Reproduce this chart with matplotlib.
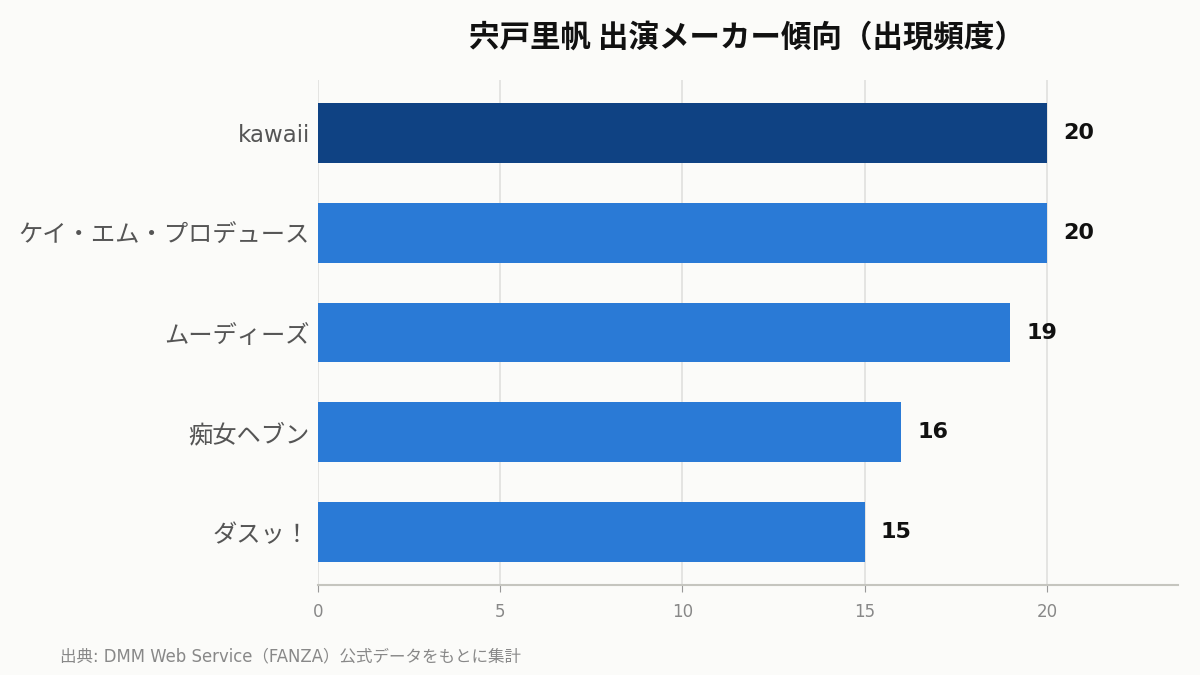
import matplotlib
matplotlib.use("Agg")
import matplotlib.pyplot as plt

plt.rcParams['font.family'] = ['DejaVu Sans', 'Noto Sans CJK JP']

categories = ["kawaii", "ケイ・エム・プロデュース", "ムーディーズ", "痴女ヘブン", "ダスッ！"]
values = [20, 20, 19, 16, 15]
colors = ["#0f4283", "#2a7ad6", "#2a7ad6", "#2a7ad6", "#2a7ad6"]
xticks = [0, 5, 10, 15, 20]
title = "宍戸里帆 出演メーカー傾向（出現頻度）"
footer = "出典: DMM Web Service（FANZA）公式データをもとに集計"

bg = "#fbfbf9"
fig = plt.figure(figsize=(12, 6.75), dpi=100, facecolor=bg)
ax = fig.add_axes([0.265, 0.1333, 0.7167, 0.7482], facecolor=bg)

y = list(range(len(categories)))
ax.barh(y, values, height=0.6, color=colors, zorder=3)
ax.set_ylim(len(categories) - 0.47, -0.53)
ax.set_xlim(0, max(values) * 1.18)
ax.set_xticks(xticks)
ax.set_yticks(y)
ax.set_yticklabels(categories, color="#555555")
for lab in ax.get_yticklabels():
    if lab.get_text().isascii():
        lab.set_family(['DejaVu Sans'])
        lab.set_fontsize(16.5)
    else:
        lab.set_family(['Noto Sans CJK JP', 'DejaVu Sans'])
        lab.set_fontsize(17.5)
ax.tick_params(axis='y', length=0, pad=6)
ax.tick_params(axis='x', length=5, color="#999999", labelcolor="#888888", labelsize=12, pad=8)
ax.grid(axis='x', color="#e0e0de", linewidth=1.2, zorder=0)
for s in ["top", "right", "left"]:
    ax.spines[s].set_visible(False)
ax.spines["bottom"].set_color("#c5c5bf")
ax.spines["bottom"].set_linewidth(1.5)

for yi, v in zip(y, values):
    ax.text(v + 0.44, yi, str(v), va='center', ha='left', fontsize=16,
            fontweight='bold', color="#111111")

fig.text(0.6225, 0.945, title, ha='center', va='center', fontsize=22,
         fontweight='bold', color="#111111", family=['Noto Sans CJK JP'])
fig.text(0.05, 0.028, footer, ha='left', va='center', fontsize=11.9, color="#888888")

fig.savefig("out.png", dpi=100, facecolor=bg)
